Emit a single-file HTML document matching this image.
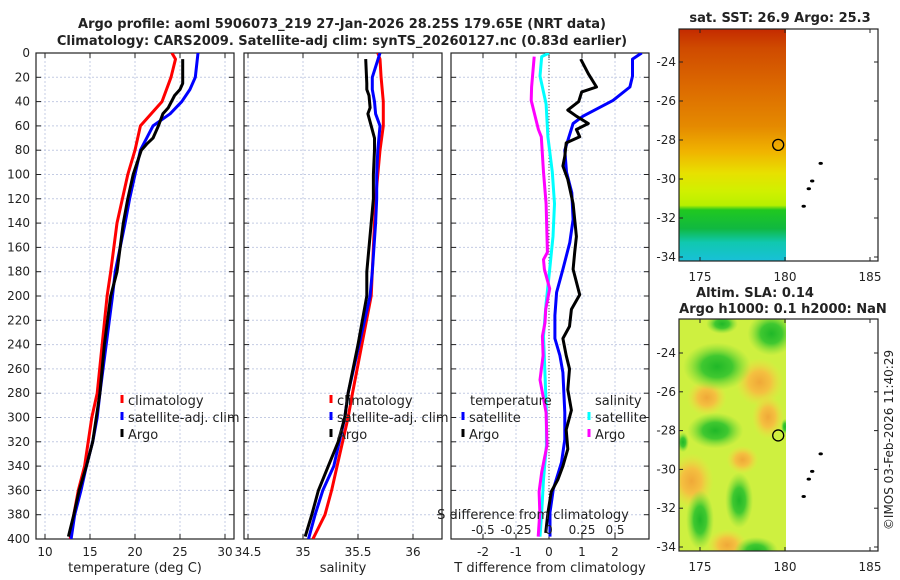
<!DOCTYPE html>
<html><head><meta charset="utf-8">
<style>
html,body{margin:0;padding:0;background:#fff;}
svg{display:block;font-family:"DejaVu Sans","Liberation Sans",sans-serif;}
</style></head>
<body>
<svg id="fig" width="900" height="580" viewBox="0 0 900 580" xmlns="http://www.w3.org/2000/svg">
<defs>
  <clipPath id="cp1"><rect x="36" y="53" width="198" height="486"/></clipPath>
  <clipPath id="cp2"><rect x="244" y="53" width="198" height="486"/></clipPath>
  <clipPath id="cp3"><rect x="451" y="53" width="198" height="486"/></clipPath>
  <clipPath id="cpm1"><rect x="679" y="29" width="107" height="232"/></clipPath>
  <clipPath id="cpm2"><rect x="679" y="319" width="107" height="232"/></clipPath>
  <linearGradient id="sstGrad" x1="0" y1="0" x2="0" y2="1">
    <stop offset="0" stop-color="#c42a00"/>
    <stop offset="0.08" stop-color="#cf4a00"/>
    <stop offset="0.25" stop-color="#dc6a00"/>
    <stop offset="0.42" stop-color="#e58a00"/>
    <stop offset="0.53" stop-color="#f0b400"/>
    <stop offset="0.62" stop-color="#e8e000"/>
    <stop offset="0.70" stop-color="#d0f000"/>
    <stop offset="0.76" stop-color="#b8f000"/>
    <stop offset="0.78" stop-color="#20c820"/>
    <stop offset="0.86" stop-color="#10b840"/>
    <stop offset="0.92" stop-color="#10c8b0"/>
    <stop offset="1" stop-color="#18c0d8"/>
  </linearGradient>
  <radialGradient id="gGreen"><stop offset="0" stop-color="#20b828"/><stop offset="0.45" stop-color="#40c830"/><stop offset="1" stop-color="#80dc38" stop-opacity="0"/></radialGradient>
  <radialGradient id="gOrange"><stop offset="0" stop-color="#f0a838"/><stop offset="0.45" stop-color="#f4c040"/><stop offset="1" stop-color="#f0e040" stop-opacity="0"/></radialGradient>
</defs>
<g id="root"></g>
</svg>
<script>
// ---------- data ----------
const depthClim = [0,5,20,40,60,80,100,120,140,180,200,280,300,340,360,380,400];
const tempClim  = [24.1,24.5,24.0,23.0,20.6,20.0,19.2,18.6,18.0,17.3,16.9,15.8,15.2,14.4,13.7,13.2,12.8];
const depthSat  = [0,20,30,40,50,60,80,100,120,140,180,200,280,300,320,340,360,380,400];
const tempSat   = [27.0,26.7,26.1,25.2,23.9,22.0,20.6,20.0,19.4,18.9,17.8,17.5,16.1,15.8,15.3,14.6,14.0,13.3,12.9];
const depthArgo = [5,25,30,35,45,50,60,70,75,80,100,120,140,180,200,240,280,300,320,340,360,380,398];
const tempArgo  = [25.3,25.3,25.0,24.4,23.7,23.1,22.6,22.0,21.3,20.7,19.8,19.2,18.7,18.0,17.3,16.6,16.1,15.7,15.3,14.6,13.8,13.2,12.6];

const salClim = [35.68,35.70,35.71,35.73,35.73,35.70,35.68,35.66,35.65,35.63,35.62,35.45,35.41,35.31,35.26,35.20,35.09];
const salSat  = [35.70,35.63,35.63,35.65,35.66,35.70,35.68,35.67,35.67,35.66,35.63,35.61,35.41,35.38,35.33,35.28,35.18,35.11,35.05];
const salArgo = [35.57,35.58,35.58,35.60,35.61,35.59,35.62,35.65,35.65,35.65,35.64,35.64,35.62,35.58,35.58,35.50,35.41,35.38,35.32,35.23,35.14,35.08,35.02];

const depthTdSat = [0,5,19,28,39,52,58,80,98,115,137,156,178,197,216,235,249,263,296,318,337,359,378,398];
const tDiffSat   = [2.81,2.53,2.53,2.45,1.94,1.03,0.73,0.48,0.53,0.69,0.73,0.63,0.42,0.23,0.18,0.18,0.33,0.42,0.48,0.48,0.38,0.13,0.03,0.03];
const depthTdArgo = [5,17,28,32,40,47,52,58,63,69,74,85,93,104,124,137,151,164,178,199,211,225,235,249,260,277,294,310,326,340,351,361,378,395];
const tDiffArgo   = [0.96,1.19,1.44,0.99,0.90,0.57,0.83,1.19,0.83,0.93,0.52,0.48,0.42,0.57,0.73,0.78,0.83,0.78,0.73,0.93,0.68,0.62,0.42,0.52,0.62,0.57,0.68,0.52,0.57,0.42,0.27,0.07,-0.03,-0.10];
const depthSd = [0,3,19,42,69,98,124,151,178,206,233,260,296,323,351,378,398];
const sDiffSat = [0.0,-0.055,-0.068,-0.022,-0.008,0.025,0.042,0.030,0.005,-0.022,-0.042,-0.032,-0.020,-0.020,-0.042,-0.055,-0.068];
const depthSdArgo = [3,28,39,52,63,69,98,124,151,164,170,178,194,211,222,233,249,269,296,323,345,361,378,398];
const sDiffArgo = [-0.112,-0.132,-0.135,-0.105,-0.080,-0.058,-0.042,-0.022,-0.015,-0.012,-0.042,-0.035,0.005,-0.025,-0.030,-0.050,-0.045,-0.068,-0.022,-0.015,-0.055,-0.075,-0.070,-0.082];

const depthTicks = [0,20,40,60,80,100,120,140,160,180,200,220,240,260,280,300,320,340,360,380,400];
const tempTicks = [10,15,20,25,30];
const salTicks = [34.5,35,35.5,36];
const tdTicks = [-2,-1,0,1,2];
const sdTicks = [-0.5,-0.25,0,0.25,0.5];
const lonTicks = [175,180,185];
const latTicks = [-24,-26,-28,-30,-32,-34];
const islandLon = [182.1,181.6,181.4,181.1];
const islandLat = [-29.2,-30.1,-30.5,-31.4];
const argoLon = 179.6, argoLat = -28.25;

// ---------- scales ----------
const yD = d => 53 + d*1.215;
const xT = t => 45 + (t-10)*9;
const xS = s => 303 + (s-35)*110;
const xTd = t => 549 + t*33;
const xSd = s => 549 + s*4*33;
const xLon = lon => 700 + (lon-175)*17;
const yLat1 = lat => 62 + (-24-lat)*19.5;
const yLat2 = lat => 353 + (-24-lat)*19.4;

const NS='http://www.w3.org/2000/svg';
const root=document.getElementById('root');
function mk(tag,attrs,parent){const e=document.createElementNS(NS,tag);for(const k in attrs)e.setAttribute(k,attrs[k]);(parent||root).appendChild(e);return e;}
function txt(x,y,s,size,anchor,weight,parent){const e=mk('text',{x:x,y:y,'font-size':size,'text-anchor':anchor||'middle','font-weight':weight||'normal',fill:'#222'},parent);e.textContent=s;return e;}
function line(xs,ys,xf,yf,color,clip,name){
  let d='';for(let i=0;i<xs.length;i++){d+=(i?'L':'M')+xf(xs[i]).toFixed(1)+','+yf(ys[i]).toFixed(1);}
  const p=mk('path',{d:d,fill:'none',stroke:color,'stroke-width':3,'stroke-linejoin':'round','clip-path':'url(#'+clip+')'});
  
  
  return p;
}

// ---------- titles ----------
let t1=txt(342,28,'Argo profile: aoml 5906073_219 27-Jan-2026 28.25S 179.65E (NRT data)',13,'middle','bold');


let t2=txt(342,45,'Climatology: CARS2009. Satellite-adj clim: synTS_20260127.nc (0.83d earlier)',13,'middle','bold');



// ---------- profile panels ----------
const panels=[{x0:36,clip:'cp1',ticks:tempTicks,xf:xT,label:'temperature (deg C)',name:'temperature-panel'},
  {x0:244,clip:'cp2',ticks:salTicks,xf:xS,label:'salinity',name:'salinity-panel'},
  {x0:451,clip:'cp3',ticks:tdTicks,xf:xTd,label:'T difference from climatology',name:'difference-panel'}];
panels.forEach((p,pi)=>{
  const g=mk('g',{});
  
  
  const x1=p.x0+198;
  depthTicks.forEach(d=>{
    if(d>0&&d<400) mk('line',{x1:p.x0,x2:x1,y1:yD(d),y2:yD(d),stroke:'#c4cce4','stroke-width':1,'stroke-dasharray':'2,2'},g);
    mk('line',{x1:p.x0,x2:p.x0+5,y1:yD(d),y2:yD(d),stroke:'#222','stroke-width':1},g);
    mk('line',{x1:x1-5,x2:x1,y1:yD(d),y2:yD(d),stroke:'#222','stroke-width':1},g);
  });
  p.ticks.forEach((t,i)=>{
    const x=p.xf(t);
    mk('line',{x1:x,x2:x,y1:53,y2:539,stroke:'#c4cce4','stroke-width':1,'stroke-dasharray':'2,2'},g);
    mk('line',{x1:x,x2:x,y1:539,y2:534,stroke:'#222','stroke-width':1},g);
    mk('line',{x1:x,x2:x,y1:53,y2:58,stroke:'#222','stroke-width':1},g);
    const lbl=txt(x,556,String(t),12,'middle','normal',g);
    
    
  });
  mk('rect',{x:p.x0,y:53,width:198,height:486,fill:'none',stroke:'#222','stroke-width':1.2},g);
  const xl=txt(p.x0+99,572,p.label,13,'middle','normal',g);
  
  
});
depthTicks.forEach(d=>{const e=txt(30,yD(d)+4,String(d),12,'end');
  
  });

// zero line in diff panel
mk('line',{x1:xTd(0),x2:xTd(0),y1:53,y2:539,stroke:'#555','stroke-width':1,'stroke-dasharray':'1,2'});

// series
line(tempClim,depthClim,xT,yD,'#ff0000','cp1','temp-climatology-line');
line(tempSat,depthSat,xT,yD,'#0000ff','cp1','temp-satellite-line');
line(tempArgo,depthArgo,xT,yD,'#000000','cp1','temp-argo-line');
line(salClim,depthClim,xS,yD,'#ff0000','cp2','sal-climatology-line');
line(salSat,depthSat,xS,yD,'#0000ff','cp2','sal-satellite-line');
line(salArgo,depthArgo,xS,yD,'#000000','cp2','sal-argo-line');
line(sDiffSat,depthSd,xSd,yD,'#00ffff','cp3','sdiff-satellite-line');
line(sDiffArgo,depthSdArgo,xSd,yD,'#ff00ff','cp3','sdiff-argo-line');
line(tDiffSat,depthTdSat,xTd,yD,'#0000ff','cp3','tdiff-satellite-line');
line(tDiffArgo,depthTdArgo,xTd,yD,'#000000','cp3','tdiff-argo-line');

// S axis inside diff panel
let sl=txt(533,519,'S difference from climatology',13,'middle');


sdTicks.forEach(s=>{const e=txt(xSd(s),534,String(s),12,'middle');
  
  });

// legends
function legEntry(x,y,color,label,name){
  const g=mk('g',{});
  
  
  mk('line',{x1:x,x2:x,y1:y-10,y2:y-2,stroke:color,'stroke-width':3},g);
  txt(x+6,y,label,13,'start','normal',g);
}
[[122,'#ff0000','climatology'],[122,'#0000ff','satellite-adj. clim'],[122,'#000000','Argo']].forEach((e,i)=>legEntry(e[0],405+i*17,e[1],e[2],'temp-legend-entry'));
[[331,'#ff0000','climatology'],[331,'#0000ff','satellite-adj. clim'],[331,'#000000','Argo']].forEach((e,i)=>legEntry(e[0],405+i*17,e[1],e[2],'sal-legend-entry'));
let lt=txt(470,405,'temperature',13,'start');
let ls=txt(595,405,'salinity',13,'start');
legEntry(463,422,'#0000ff','satellite','tdiff-legend-satellite');
legEntry(463,439,'#000000','Argo','tdiff-legend-argo');
legEntry(589,422,'#00ffff','satellite','sdiff-legend-satellite');
legEntry(589,439,'#ff00ff','Argo','sdiff-legend-argo');

// ---------- maps ----------
function mapPanel(y0,yLat,clip,name,fill){
  const g=mk('g',{});
  
  
  fill(g);
  islandLon.forEach((lo,i)=>{const e=mk('ellipse',{cx:xLon(lo),cy:yLat(islandLat[i]),rx:2.2,ry:1.5,fill:'#000'},g);
    
    });
  const c=mk('circle',{cx:xLon(argoLon),cy:yLat(argoLat),r:5.5,fill:'none',stroke:'#000','stroke-width':1.3},g);
  
  
  mk('rect',{x:679,y:y0,width:199,height:232,fill:'none',stroke:'#222','stroke-width':1.2},g);
  lonTicks.forEach(lo=>{const x=xLon(lo);
    mk('line',{x1:x,x2:x,y1:y0+232,y2:y0+228,stroke:'#222'},g);
    mk('line',{x1:x,x2:x,y1:y0,y2:y0+4,stroke:'#222'},g);
    txt(x,y0+252,String(lo),12,'middle','normal',g);});
  latTicks.forEach(la=>{const y=yLat(la);
    mk('line',{x1:679,x2:683,y1:y,y2:y,stroke:'#222'},g);
    mk('line',{x1:874,x2:878,y1:y,y2:y,stroke:'#222'},g);
    txt(676,y+4,String(la),12,'end','normal',g);});
}
mapPanel(29,yLat1,'cpm1','sst-map',g=>{
  mk('rect',{x:679,y:29,width:107,height:232,fill:'url(#sstGrad)'},g);
});
mapPanel(319,yLat2,'cpm2','sla-map',g=>{
  const cg=mk('g',{'clip-path':'url(#cpm2)'},g);
  mk('rect',{x:679,y:319,width:107,height:232,fill:'#cef040'},cg);
  const blobs=[['gOrange',178.5,-25.5,24,24],['gOrange',175.4,-26.3,20,18],['gOrange',174.5,-30.6,22,28],['gOrange',176.6,-33.9,20,16],['gOrange',179,-27.3,16,22],['gOrange',177.5,-29.5,16,14],
    ['gGreen',176,-24.7,34,24],['gGreen',179.2,-23,24,22],['gGreen',175.9,-28,28,18],['gGreen',175,-32.6,14,30],
    ['gGreen',177.3,-31.6,14,28],['gGreen',178.3,-34.2,22,14],['gGreen',176.3,-22.5,16,10],['gGreen',174,-28.6,6,10],['gGreen',180,-27.8,4,8]];
  blobs.forEach(b=>mk('ellipse',{cx:xLon(b[1]),cy:yLat2(b[2]),rx:b[3],ry:b[4],fill:'url(#'+b[0]+')'},cg));
});
let m1=txt(780,22,'sat. SST: 26.9 Argo: 25.3',13,'middle','bold');
let m2=txt(755,297,'Altim. SLA: 0.14',13,'middle','bold');
let m3=txt(783,313,'Argo h1000: 0.1 h2000: NaN',13,'middle','bold');
let cr=txt(0,0,'©IMOS 03-Feb-2026 11:40:29',12,'middle');
cr.setAttribute('transform','translate(893,440) rotate(-90)');


</script>
</body></html>
